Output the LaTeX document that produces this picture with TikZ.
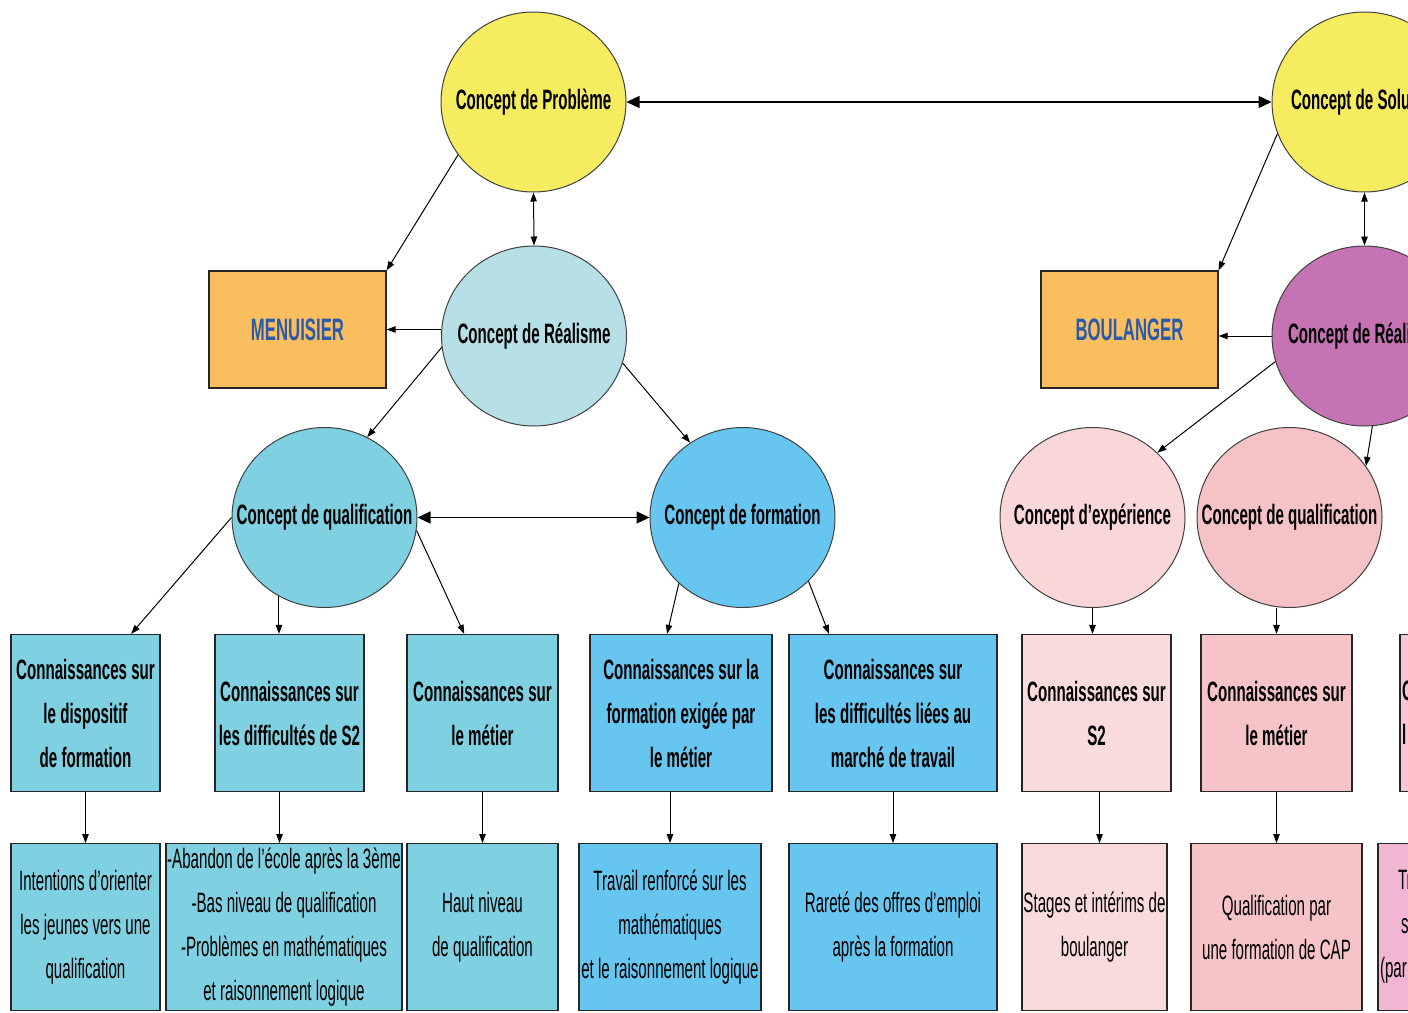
\documentclass[tikz,border=0pt]{standalone}
\usepackage{fontspec}
\setmainfont{Liberation Sans}[FakeStretch=0.54]
\usetikzlibrary{shapes.geometric, arrows.meta, positioning}

\definecolor{probyellow}{RGB}{245,236,96}
\definecolor{realblue}{RGB}{183,223,230}
\definecolor{qualblue}{RGB}{127,208,225}
\definecolor{formblue}{RGB}{102,198,239}
\definecolor{metierorange}{RGB}{251,190,94}
\definecolor{metierblue}{RGB}{43,90,171}
\definecolor{realpurple}{RGB}{198,115,179}
\definecolor{exppink}{RGB}{249,215,216}
\definecolor{qualpink}{RGB}{245,195,197}
\definecolor{exppinkbox}{RGB}{250,219,220}
\definecolor{qualpinkbox}{RGB}{246,196,199}
\definecolor{edgepink}{RGB}{248,197,218}
\definecolor{edgepinkdark}{RGB}{242,182,210}

\newcommand{\ctext}[1]{\makebox[0pt]{#1}}

\begin{document}
\begin{tikzpicture}[
    x=0.5pt, y=-0.5pt,
    concept/.style={ellipse, draw=black!75, line width=0.5pt, minimum width=92.5pt, minimum height=90pt, inner sep=0pt, font=\bfseries\fontsize{14}{22}\selectfont},
    metier/.style={rectangle, draw=black!85, line width=0.6pt, fill=metierorange, minimum width=88.5pt, minimum height=58.5pt, text=metierblue, font=\bfseries\fontsize{15.5}{18}\selectfont},
    kbox/.style={rectangle, draw=black!85, line width=0.6pt, inner sep=0pt, align=center, minimum height=78.5pt, font=\bfseries\fontsize{14}{22}\selectfont},
    rbox/.style={rectangle, draw=black!85, line width=0.6pt, inner sep=0pt, align=center, minimum height=83.5pt, font=\fontsize{14}{22}\selectfont},
    arrow/.style={-{Triangle[length=4.5pt, width=3.2pt]}, line width=0.5pt},
    dblarrow/.style={{Triangle[length=4.5pt, width=3.2pt]}-{Triangle[length=4.5pt, width=3.2pt]}, line width=0.5pt},
    bigarrow/.style={{Triangle[length=6.5pt, width=6pt]}-{Triangle[length=6.5pt, width=6pt]}, line width=0.7pt}
]
\useasboundingbox (0,0) rectangle (1408,1012);
\clip (0,0) rectangle (1408,1012);

% Top concepts
\node[concept, fill=probyellow] (prob) at (533.5,102) {\ctext{Concept de Problème}};
\node[concept, fill=probyellow] (sol) at (1364.5,102) {\ctext{Concept de Solution}};

% Realism level
\node[concept, fill=realblue] (real1) at (534,336) {\ctext{Concept de Réalisme}};
\node[concept, fill=realpurple] (real2) at (1364.5,336) {\ctext{Concept de Réalisme}};
\node[metier] (menu) at (297.5,329.5) {MENUISIER};
\node[metier] (boul) at (1129.5,329.5) {BOULANGER};

% Second level concepts
\node[concept, fill=qualblue] (qual) at (324.5,517.5) {\ctext{Concept de qualification}};
\node[concept, fill=formblue] (form) at (742.5,517.5) {\ctext{Concept de formation}};
\node[concept, fill=exppink] (exp) at (1092.5,517.5) {\ctext{Concept d’expérience}};
\node[concept, fill=qualpink] (qual2) at (1289.5,517.5) {\ctext{Concept de qualification}};

% Knowledge boxes
\node[kbox, fill=qualblue, minimum width=74.5pt] (k1) at (85.5,713) {Connaissances sur\\le dispositif\\de formation};
\node[kbox, fill=qualblue, minimum width=74.5pt] (k2) at (289.5,713) {Connaissances sur\\les difficultés de S2};
\node[kbox, fill=qualblue, minimum width=75.5pt] (k3) at (482.5,713) {Connaissances sur\\le métier};
\node[kbox, fill=formblue, minimum width=91pt] (k4) at (681,713) {Connaissances sur la\\formation exigée par\\le métier};
\node[kbox, fill=formblue, minimum width=104pt] (k5) at (893,713) {Connaissances sur\\les difficultés liées au\\marché de travail};
\node[kbox, fill=exppinkbox, minimum width=74.5pt] (k6) at (1096.5,713) {Connaissances sur\\S2};
\node[kbox, fill=qualpinkbox, minimum width=75.5pt] (k7) at (1276.5,713) {Connaissances sur\\le métier};
\node[kbox, fill=edgepink, minimum width=75pt, text width=73pt, inner xsep=1pt, align=left] (k8) at (1475,713) {C\\l};

% Findings
\node[rbox, fill=qualblue, minimum width=74.5pt, below=25.5pt of k1] (r1) {Intentions d’orienter\\les jeunes vers une\\qualification};
\node[rbox, fill=qualblue, minimum width=118pt, below=25.5pt of k2, xshift=-2.75pt] (r2) {-Abandon de l’école après la 3ème\\-Bas niveau de qualification\\-Problèmes en mathématiques\\et raisonnement logique};
\node[rbox, fill=qualblue, minimum width=75.5pt, below=25.5pt of k3] (r3) {Haut niveau\\de qualification};
\node[rbox, fill=formblue, minimum width=91pt, below=25.5pt of k4, xshift=-5.5pt] (r4) {Travail renforcé sur les\\mathématiques\\et le raisonnement logique};
\node[rbox, fill=formblue, minimum width=104pt, below=25.5pt of k5] (r5) {Rareté des offres d’emploi\\après la formation};
\node[rbox, fill=exppinkbox, minimum width=72.5pt, below=25.5pt of k6, xshift=-1pt] (r6) {Stages et intérims de\\boulanger};
\node[rbox, fill=qualpinkbox, minimum width=85.5pt, below=25.5pt of k7] (r7) {Qualification par\\une formation de CAP};
\node[rbox, fill=edgepinkdark, minimum width=91pt, text width=89pt, inner xsep=1pt, align=left, below=25.5pt of k8, xshift=-3pt] (r8) {\hspace*{9pt}Tr\\\hspace*{10.5pt}s\\(par};

% Connections, left branch
\draw[bigarrow] (prob.east) -- (sol.west);
\draw[arrow] (prob.215) -- (menu.north east);
\draw[dblarrow] (prob.south) -- (real1.north);
\draw[arrow] (menu.east -| real1.west) -- (menu.east);
\draw[arrow] (real1.187) -- (qual.62);
\draw[arrow] (real1.-17) -- (form.125);
\draw[bigarrow] (qual.east) -- (form.west);
\draw[arrow] (qual.west) -- (k1.60);
\draw[arrow] (qual.240) -- (qual.240 |- k2.north);
\draw[arrow] (qual.-8) -- (k3.103);
\draw[arrow] (form.226) -- (k4.100);
\draw[arrow] (form.-44) -- (k5.129);

\draw[arrow] (k1.south) -- (k1.south |- r1.north);
\draw[arrow] ([xshift=-5pt]k2.south) -- ([xshift=-5pt]k2.south |- r2.north);
\draw[arrow] (k3.south) -- (k3.south |- r3.north);
\draw[arrow] (r4.north |- k4.south) -- (r4.north);
\draw[arrow] (k5.south) -- (k5.south |- r5.north);

% Connections, right branch
\draw[arrow] (sol.200) -- (boul.north east);
\draw[dblarrow] (sol.south) -- (real2.north);
\draw[arrow] (real2.west) -- (real2.west -| boul.east);
\draw[arrow] (real2.196) -- (exp.45);
\draw[arrow] (real2.275) -- (qual2.34);
\draw[arrow] (exp.south) -- (exp.south |- k6.north);
\draw[arrow] (k7.north |- qual2.south) -- (k7.north);
\draw[arrow] ([xshift=1.5pt]k6.south) -- ([xshift=1.5pt]k6.south |- r6.north);
\draw[arrow] (k7.south) -- (k7.south |- r7.north);

\end{tikzpicture}
\end{document}
